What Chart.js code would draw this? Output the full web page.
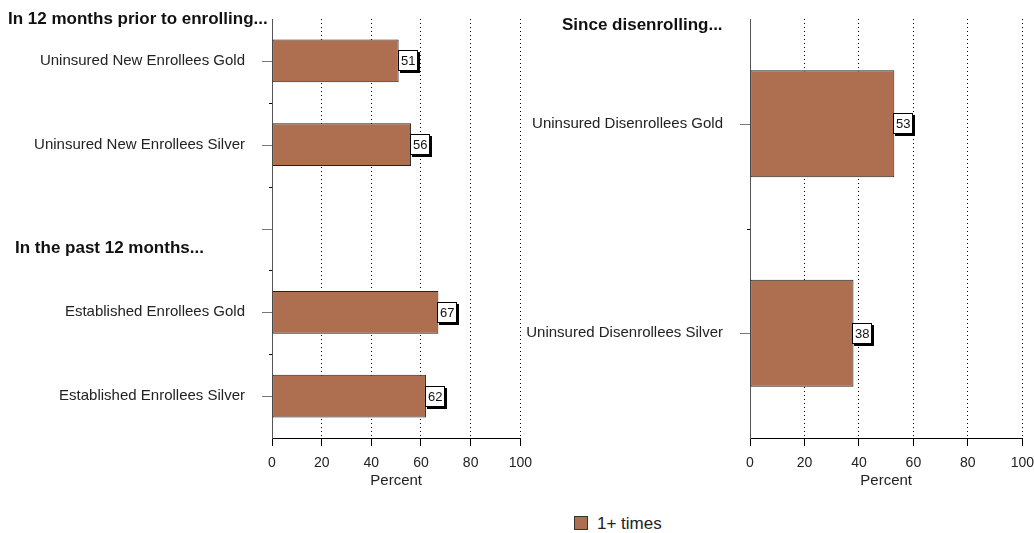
<!DOCTYPE html>
<html>
<head>
<meta charset="utf-8">
<script src="https://cdn.jsdelivr.net/npm/chart.js@4.4.0/dist/chart.umd.min.js"></script>
<style>
  body { margin: 0; background: #fff; font-family: "Liberation Sans", Arial, sans-serif; }
  #wrap { position: relative; width: 1034px; height: 533px; overflow: hidden; }
  canvas { position: absolute; top: 0; }
  .head { position: absolute; font-weight: bold; font-size: 17px; color: #111; white-space: nowrap; line-height: 18px; }
  #legend { position: absolute; left: 574px; top: 515px; font-size: 17px; color: #222; line-height: 18px; white-space: nowrap; }
  #legend span.box { display: inline-block; width: 12px; height: 12px; background: #ae6f50; border: 1px solid #333; vertical-align: -1px; margin-right: 9px; }
</style>
</head>
<body>
<div id="wrap">
  <canvas id="leftChart" width="541" height="495" style="left:0"></canvas>
  <canvas id="rightChart" width="523" height="495" style="left:520px"></canvas>
  <div class="head" style="left:8px;top:10px">In 12 months prior to enrolling...</div>
  <div class="head" style="left:15px;top:239px">In the past 12 months...</div>
  <div class="head" style="left:562px;top:16px">Since disenrolling...</div>
  <div id="legend"><span class="box"></span>1+ times</div>
</div>
<script>
// Datos
const leftLabels = [
  "Uninsured New Enrollees Gold",
  "Uninsured New Enrollees Silver",
  "",
  "Established Enrollees Gold",
  "Established Enrollees Silver",
];
const leftValues = [51, 56, null, 67, 62];

const rightLabels = ["Uninsured Disenrollees Gold", "Uninsured Disenrollees Silver"];
const rightValues = [53, 38];

const seriesName = "1+ times";
const xTicks = [0, 20, 40, 60, 80, 100];

const barColor = "#ae6f50";
const fontFamily = '"Liberation Sans", Arial, sans-serif';

// value boxes at the end of each bar + ticks on the category axis
const valueBoxes = {
  id: "valueBoxes",
  afterDatasetsDraw(chart) {
    const ctx = chart.ctx;
    const meta = chart.getDatasetMeta(0);
    ctx.save();
    ctx.font = "13px " + fontFamily;
    meta.data.forEach((bar, i) => {
      const v = chart.data.datasets[0].data[i];
      if (v == null) return;
      const txt = String(v);
      const w = Math.round(ctx.measureText(txt).width) + 6;
      const h = 21;
      const x = Math.round(bar.x) - 1;
      const y = Math.round(bar.y - h / 2);
      ctx.fillStyle = "#000";
      ctx.fillRect(x + 2, y + 2, w, h);
      ctx.fillStyle = "#fff";
      ctx.fillRect(x, y, w, h);
      ctx.strokeStyle = "#000";
      ctx.lineWidth = 1;
      ctx.strokeRect(x + 0.5, y + 0.5, w - 1, h - 1);
      ctx.fillStyle = "#111";
      ctx.textBaseline = "middle";
      ctx.fillText(txt, x + 3, bar.y + 1);
    });
    const yScale = chart.scales.y;
    const n = chart.data.labels.length;
    // center ticks (gray, 10px)
    ctx.strokeStyle = "#777";
    for (let i = 0; i < n; i++) {
      const yy = Math.round(yScale.getPixelForTick(i)) + 0.5;
      ctx.beginPath();
      ctx.moveTo(yScale.right - 10, yy);
      ctx.lineTo(yScale.right, yy);
      ctx.stroke();
    }
    // boundary ticks (short, black)
    ctx.strokeStyle = "#000";
    for (let i = 0; i < n - 1; i++) {
      const yy = Math.round((yScale.getPixelForTick(i) + yScale.getPixelForTick(i + 1)) / 2) + 0.5;
      ctx.beginPath();
      ctx.moveTo(yScale.right - 3, yy);
      ctx.lineTo(yScale.right, yy);
      ctx.stroke();
    }
    ctx.restore();
  },
};

const makeChart = (canvasId, labels, values, axisWidth) => {
  const ctx = document.getElementById(canvasId).getContext("2d");
  return new Chart(ctx, {
    type: "bar",
    data: {
      labels: labels,
      datasets: [
        {
          label: seriesName,
          data: values,
          backgroundColor: barColor,
          borderColor: "#222",
          borderWidth: 1,
          borderSkipped: false,
          categoryPercentage: 1,
          barPercentage: 0.51,
        },
      ],
    },
    options: {
      indexAxis: "y",
      responsive: false,
      animation: false,
      layout: { padding: { top: 19, right: 0, left: 0, bottom: 0 } },
      plugins: { legend: { display: false }, tooltip: { enabled: false } },
      scales: {
        x: {
          min: 0,
          max: 100,
          afterBuildTicks: (scale) => {
            scale.ticks = xTicks.map((v) => ({ value: v }));
          },
          afterFit: (scale) => {
            scale.height = 57;
          },
          border: { display: true, color: "#000", width: 1, dash: [1, 3] },
          grid: {
            color: (c) => (c.tick && c.tick.value === 0 ? "rgba(0,0,0,0)" : "#000"),
            tickBorderDash: [],
            tickColor: "#000",
            tickLength: 8,
          },
          ticks: {
            color: "#222",
            padding: 9,
            font: { family: fontFamily, size: 14 },
          },
          title: {
            display: true,
            text: "Percent",
            color: "#222",
            padding: { top: 0, bottom: 5 },
            font: { family: fontFamily, size: 15 },
          },
        },
        y: {
          afterFit: (scale) => {
            scale.width = axisWidth;
          },
          border: { display: true, color: "#555", width: 1 },
          grid: {
            offset: false,
            drawOnChartArea: false,
            color: "rgba(0,0,0,0)",
            tickLength: 25,
          },
          ticks: {
            color: "#222",
            padding: 2,
            font: { family: fontFamily, size: 15 },
          },
        },
      },
    },
    plugins: [valueBoxes],
  });
};

makeChart("leftChart", leftLabels, leftValues, 272);
makeChart("rightChart", rightLabels, rightValues, 230);
</script>
</body>
</html>
